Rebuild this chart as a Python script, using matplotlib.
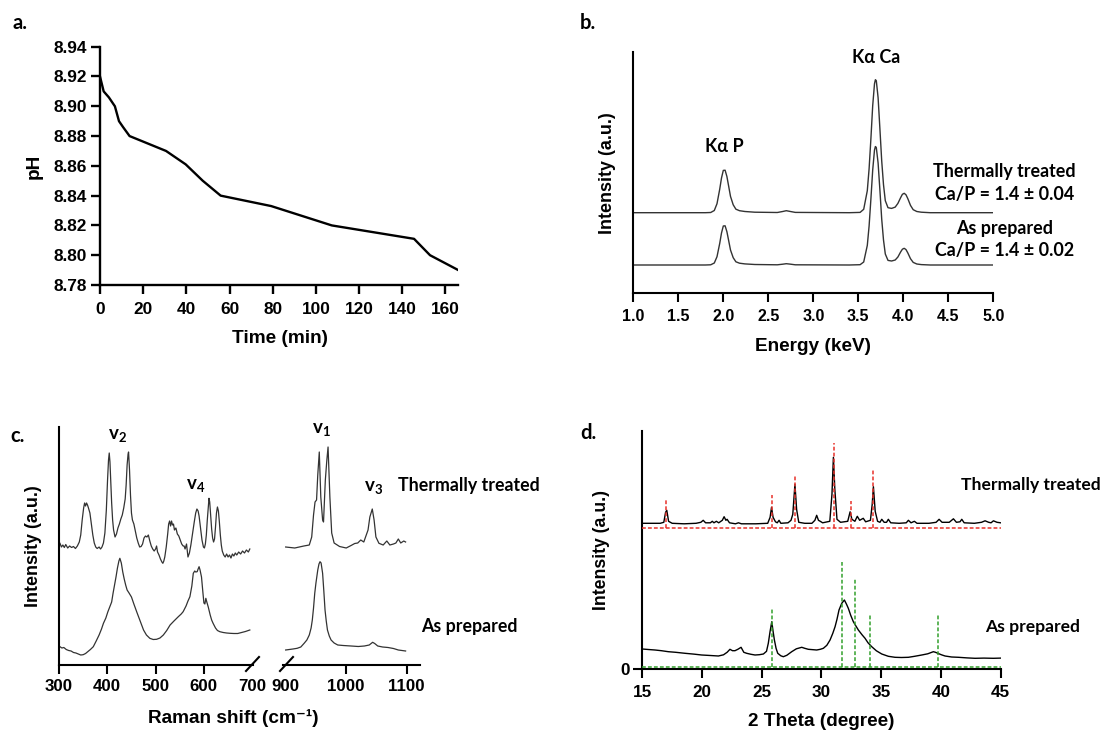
import matplotlib
matplotlib.use('Agg')
import matplotlib.pyplot as plt
from matplotlib.lines import Line2D

plt.rcParams['font.family'] = ['Liberation Sans', 'DejaVu Sans']
plt.rcParams['font.weight'] = 'bold'
plt.rcParams['mathtext.fontset'] = 'custom'
plt.rcParams['mathtext.rm'] = 'Lato'
plt.rcParams['mathtext.bf'] = 'Lato:bold'
plt.rcParams['mathtext.it'] = 'Lato:italic'

# ---------------- data ----------------
# (a) pH vs time
time_min = [0, 1.7, 4.1, 6.9, 8.8, 10.7, 13.7, 30.6, 39.7, 47.6, 55.9, 79.3, 107.4, 145.5, 152.9, 166]
ph = [8.920, 8.910, 8.906, 8.900, 8.890, 8.886, 8.880, 8.870, 8.861, 8.850, 8.840, 8.833, 8.820, 8.811, 8.800, 8.790]
ph_xticks = [0, 20, 40, 60, 80, 100, 120, 140, 160]
ph_yticks = [8.78, 8.80, 8.82, 8.84, 8.86, 8.88, 8.90, 8.92, 8.94]

# (b) EDS spectra (height above each trace's own baseline, a.u.)
eds_energy = [1.00, 1.80, 1.86, 1.90, 1.93, 1.96, 1.98, 2.00, 2.02, 2.04, 2.06, 2.08, 2.11, 2.14, 2.18, 2.24,
              2.35, 2.60, 2.66, 2.70, 2.74, 2.80, 3.40, 3.52, 3.56, 3.60, 3.62, 3.64, 3.66, 3.68, 3.69, 3.70,
              3.72, 3.74, 3.76, 3.78, 3.80, 3.83, 3.87, 3.91, 3.94, 3.97, 3.99, 4.01, 4.03, 4.05, 4.08, 4.11,
              4.15, 4.20, 4.30, 5.00]
eds_thermal = [0, 0, 0.2, 2.2, 9, 23.4, 34.7, 42.3, 42.5, 36.2, 26.3, 16.3, 7.9, 3.5, 2, 1.2,
               0.5, 0.2, 1.2, 2, 1.3, 0.3, 0, 0.3, 3.4, 22, 44, 74, 107, 129, 133, 132,
               115, 84, 52, 28, 12, 5, 4.3, 5.6, 9.3, 15, 18.4, 19.4, 17.9, 14.1, 7.3, 3,
               1.2, 0.5, 0, 0]
eds_prepared = [0, 0, 0.2, 2, 8.3, 21.5, 32, 39, 39.2, 33.3, 24.2, 15, 7.3, 3.2, 1.8, 1.1,
                0.5, 0.2, 0.8, 1.3, 0.9, 0.2, 0, 0.3, 3, 19.6, 39, 66, 95, 115, 118.5, 117.5,
                102, 75, 46, 25, 11, 4.6, 4, 5, 8, 13, 15.8, 16.7, 15.4, 12.1, 6.3, 2.6,
                1, 0.4, 0, 0]
eds_xticks = [1.0, 1.5, 2.0, 2.5, 3.0, 3.5, 4.0, 4.5, 5.0]

# (c) Raman spectra, low-shift segment (300-700) and high-shift segment (900-1100)
raman_th_low = [[302,121.7],[305,118],[308,120],[311,117.5],[314,120.5],[318,117],[322,119],[326,117.5],[330,118.5],
    [334,116.5],[338,119],[342,123],[345,130],[348,145],[351,157],[353,162],[355,159],[357,162],[359,160],[361,157],
    [364,152],[367,141],[370,130],[373,122],[376,118],[379,116.5],[383,118],[386,116],[389,118],[392,122],[395,132],
    [398,155],[400.5,185],[402.5,205],[404,212],[405.5,203],[407,185],[409,162],[411,145],[413,135],[416,128],
    [419,131],[422,137],[425,141],[428,146],[431,150],[434,157],[437,166],[439,180],[441,200],[443,211],[444,213],
    [446,195],[448,170],[450,152],[452,145],[455,141],[458,134],[461,127],[464,122],[467,118],[470,118.5],[473,121],
    [476,127],[479,129],[482,128],[485,130],[488,124],[491,119],[494,116],[497,114],[500,116],[502,119],[504,113],
    [507,110],[510,106],[513,103],[515,101.7],[517,104],[519,108],[522,118],[525,131],[527,141],[529,144],[531,139],
    [533,144],[535,140],[537,141],[539,135],[542,137],[545,131],[548,129],[551,125],[554,121],[557,119],[559,119],
    [561,116],[564,121],[567,108],[570,112],[573,120],[576,130],[580,143],[583,152],[585.5,156],[588,154],[590,149],
    [593,137],[596,125],[599,118],[601,117],[603,121],[605,130],[607,145],[609,158],[610.5,166.7],[612,163],[614,150],
    [616,136],[618,127],[620,123],[622,126],[624,138],[626,152],[628,158],[630,154],[632,143],[634,130],[636,120],
    [638,114],[641,110],[644,108],[647,111],[650,108],[653,110],[656,107],[659,111],[662,109],[665,112],[668,110],
    [672,113],[676,111],[680,114],[684,112],[688,115],[692,113],[695,116]]
raman_ap_low = [[302,18.3],[306,17],[310,17.5],[315,15.5],[320,14.5],[325,14],[330,12.5],[335,12],[340,11],[345,10],
    [350,10.3],[355,11.5],[360,13.5],[365,15.5],[371,18.3],[377,24],[383,30],[388,36],[392,41.7],[397,47],[401,53],
    [405,58],[409,63],[412,72],[415,80],[418,88],[421,97],[424,104],[426,106.7],[429,102],[432,93],[435,86],[438,80],
    [441,75],[445,72],[450,68],[455,61],[461,53],[468,44],[475,35],[481,30],[488,26.7],[495,25.5],[502,25.7],[509,27],
    [516,30],[523,34.5],[530,40],[538,44],[547,48.3],[553,51],[557,53.3],[563,59],[567,64],[571,68.3],[575,79],
    [578,91.7],[581,94],[583,93],[586,93.3],[588,96],[590,98.3],[592,95],[595,88],[598,72],[600,62],[602,61],
    [604,66.7],[606,63],[609,58],[613,50],[616,45],[619,41.7],[624,37],[628,34.5],[633,33.3],[640,32.5],[647,32],
    [654,31.7],[662,31.5],[670,31.5],[678,32.5],[686,33.5],[695,35]]
raman_th_high = [[900,118],[915,117],[930,119],[939,120],[943,128],[946,150],[948.5,163],[951,165],[953,190],
    [955.5,213],[958,168],[961,145],[962.5,143],[965.5,185],[968,205],[970,218],[973,168],[976,132],[980,122],
    [989,118.5],[1000,117],[1008,119.5],[1014,121.5],[1019,122],[1024,125],[1029,123],[1036,135],[1039,148],
    [1043,156],[1046,145],[1049,128],[1054,121.7],[1061,120],[1067,124],[1072,120],[1078,121],[1082,122],
    [1086,126],[1090,122],[1095,124],[1098,123]]
raman_ap_high = [[900,15],[906,15.5],[912,16],[919,16.7],[925,18],[930.5,21.7],[935,25],[939,30],[942,37],[944,45],
    [946,57],[948,71.7],[950,82],[953,95],[955,101],[956.7,103.3],[958.5,102],[961,91.7],[963,74],[965,55],[967,44],
    [969,35],[972,29],[975,25],[980,22],[986,20],[995,19.5],[1008,19],[1020,18.5],[1030,19],[1038,20],[1043.6,22.7],
    [1047,21.5],[1052,19],[1060,18],[1069,17.5],[1078,16.5],[1086,15],[1092,14.5],[1098,14]]
raman_low_ticks = [300, 400, 500, 600, 700]
raman_high_ticks = [900, 1000, 1100]

# (d) XRD patterns
xrd_th = [[15.0,146],[16.5,146],[16.8,147],[16.95,157],[17.05,159],[17.2,148],[17.5,146],[18.5,145.5],[19.5,146],
    [19.9,147],[20.1,149],[20.3,146.5],[20.7,146.5],[20.86,148],[21.0,146.5],[21.2,148],[21.4,146.5],[21.7,149],
    [21.85,152.6],[22.0,149],[22.1,150],[22.3,146.5],[22.8,145.5],[23.05,146.5],[23.3,145.5],[24.5,145.5],[25.5,146],
    [25.7,152],[25.82,162],[25.95,152],[26.15,147.5],[26.3,146.5],[26.45,149],[26.6,146],[27.2,146.5],[27.45,149],
    [27.6,155],[27.78,185],[27.92,160],[28.1,147],[28.6,146],[29.2,146],[29.45,149],[29.6,154],[29.75,149],[29.9,148],
    [30.1,146.5],[30.7,148],[30.88,175],[31.0,212],[31.12,180],[31.3,150],[31.6,147],[32.2,148],[32.4,157.5],
    [32.55,150],[32.8,148],[33.0,153],[33.2,149],[33.5,151],[33.7,147.5],[34.1,149],[34.25,165],[34.35,182.6],
    [34.5,158],[34.7,148],[34.9,147],[35.05,150],[35.25,147],[35.45,147],[35.6,150],[35.8,146.5],[36.5,146],
    [37.1,146.5],[37.28,149],[37.5,146.5],[37.78,148],[38.0,146],[39.0,146],[39.6,147],[39.85,150],[40.1,147],
    [40.7,147],[41.05,150.5],[41.3,147],[41.6,147.5],[41.75,150],[41.95,146.5],[42.8,146],[43.4,147],[43.7,148.5],
    [44.0,147],[44.2,146.5],[44.4,148.5],[44.7,147],[45.0,146.5]]
xrd_ap = [[15.0,20.3],[15.5,19.8],[16.06,19.3],[16.6,18.6],[17.18,17.6],[17.8,17],[18.58,16],[19.3,15.2],[19.97,14.3],
    [20.7,13.8],[21.37,13.3],[21.8,14.5],[22.1,17],[22.34,20],[22.55,18.6],[22.76,18.6],[23.0,20],[23.27,22],[23.5,17],
    [23.74,16],[24.1,15],[24.44,14.3],[24.8,14.6],[25.14,15.3],[25.4,18],[25.55,26],[25.7,38],[25.84,47.6],[25.95,38],
    [26.06,29.3],[26.2,21],[26.34,16],[26.6,13.5],[26.81,12.6],[27.1,14],[27.51,17.6],[27.9,20.5],[28.35,22],[28.6,21],
    [28.9,20],[29.3,19.6],[29.6,19.3],[29.9,20],[30.16,21],[30.45,24],[30.72,29.3],[30.95,36],[31.14,42.6],[31.3,50],
    [31.47,59.3],[31.7,66],[31.92,69.3],[32.1,65],[32.25,61],[32.45,54],[32.67,47.6],[32.9,43],[33.09,39.3],[33.4,34.5],
    [33.65,31],[33.9,26.5],[34.21,22.6],[34.6,18.5],[35.05,15.3],[35.6,13],[36.16,12],[36.7,11.8],[37.28,12],[37.8,13],
    [38.4,14.3],[38.9,15.5],[39.37,17.6],[39.55,17],[39.74,16],[40.05,14.5],[40.35,13.3],[40.9,12.3],[41.47,12],
    [42.2,11.4],[42.86,11],[43.6,11.2],[44.4,11],[45.0,11.2]]
ref_red_pos = [17.0, 25.84, 27.79, 31.03, 32.45, 34.35]
ref_red_h = [28, 33, 52, 85.3, 27.7, 58]
ref_green_pos = [25.84, 31.7, 32.8, 34.07, 39.74]
ref_green_h = [57.6, 105, 87.6, 51.6, 51.6]
xrd_xticks = [15, 20, 25, 30, 35, 40, 45]

# ---------------- layout helpers ----------------
W, H = 1105, 731
fig = plt.figure(figsize=(W / 100, H / 100), dpi=100)

def ax_at(l, r, t, b):
    return fig.add_axes([l / W, 1 - b / H, (r - l) / W, (b - t) / H])

def ftext(x, y, s, **kw):
    kw.setdefault('ha', 'center')
    kw.setdefault('va', 'center')
    fig.text(x / W, 1 - y / H, s, **kw)

ANN = ['Lato', 'Open Sans', 'DejaVu Sans']
AX = ['Liberation Sans', 'DejaVu Sans']

def style(ax, lw, size, pad, left=True):
    for s in ['top', 'right']:
        ax.spines[s].set_visible(False)
    ax.spines['bottom'].set_linewidth(lw)
    ax.spines['left'].set_linewidth(lw)
    ax.spines['left'].set_visible(left)
    ax.tick_params(axis='both', length=6.8, width=lw, labelsize=size, pad=pad, color='black')
    ax.patch.set_alpha(0)

# ---------------- (a) ----------------
axa = ax_at(100, 458.3, 46.7, 285)
axa.plot(time_min, ph, color='black', lw=1.7)
axa.set_xlim(0, 166)
axa.set_ylim(8.78, 8.94)
axa.set_xticks(ph_xticks)
axa.set_yticks(ph_yticks)
axa.set_yticklabels([f'{v:.2f}' for v in ph_yticks])
style(axa, 1.7, 12.4, 5.2)
axa.tick_params(axis='y', pad=2.5)
ftext(34.6, 166.7, 'pH', rotation=90, fontsize=13.7, family=AX)
ftext(280, 338.3, 'Time (min)', fontsize=13.7, family=AX)
ftext(20, 23, 'a.', fontsize=14.5, family=ANN)

# ---------------- (b) ----------------
off_th_b, off_ap_b = 80.6, 28.3
axb = ax_at(633.3, 993.3, 51.7, 293.3)
axb.plot(eds_energy, [v + off_th_b for v in eds_thermal], color='#333333', lw=1.0)
axb.plot(eds_energy, [v + off_ap_b for v in eds_prepared], color='#333333', lw=1.0)
axb.set_xlim(1.0, 5.0)
axb.set_ylim(0, 241.6)
axb.set_xticks(eds_xticks)
axb.set_xticklabels([f'{v:.1f}' for v in eds_xticks])
axb.set_yticks([])
style(axb, 1.5, 11.5, 4.2)
ftext(607, 173, 'Intensity (a.u.)', rotation=90, fontsize=12.9, family=AX)
ftext(813, 346.7, 'Energy (keV)', fontsize=13.7, family=AX)
ftext(588, 23, 'b.', fontsize=14.5, family=ANN)
ftext(724, 146.7, 'Kα P', fontsize=12.9, family=ANN)
ftext(876, 57.3, 'Kα Ca', fontsize=12.9, family=ANN)
ftext(1004.7, 171.7, 'Thermally treated', fontsize=12.9, family=ANN)
ftext(1004.7, 194.3, 'Ca/P = 1.4 ± 0.04', fontsize=12.9, family=ANN)
ftext(1004.7, 228.3, 'As prepared', fontsize=12.9, family=ANN)
ftext(1004.7, 250.7, 'Ca/P = 1.4 ± 0.02', fontsize=12.9, family=ANN)

# ---------------- (c) ----------------
axcl = ax_at(59, 252.7, 426.7, 665)
axcr = ax_at(283, 420, 426.7, 665)
for ax, seg in [(axcl, raman_th_low), (axcl, raman_ap_low), (axcr, raman_th_high), (axcr, raman_ap_high)]:
    ax.plot([p[0] for p in seg], [p[1] for p in seg], color='#333333', lw=0.9)
axcl.set_xlim(300, 701)
axcr.set_xlim(895.6, 1121.8)
for ax in (axcl, axcr):
    ax.set_ylim(0, 238.3)
    ax.set_yticks([])
style(axcl, 1.5, 12.2, 3.3)
style(axcr, 1.5, 12.2, 3.3, left=False)
axcl.set_xticks(raman_low_ticks)
axcr.set_xticks(raman_high_ticks)
axcl.xaxis.get_major_ticks()[-1].tick1line.set_visible(False)
axcr.xaxis.get_major_ticks()[0].tick1line.set_visible(False)
for (x0, y0, x1, y1) in [(246, 671, 259, 657), (280, 671, 293, 657)]:
    fig.add_artist(Line2D([x0 / W, x1 / W], [1 - y0 / H, 1 - y1 / H], transform=fig.transFigure,
                          color='black', lw=1.5))
ftext(34, 546, 'Intensity (a.u.)', rotation=90, fontsize=12.9, family=AX)
ftext(233.3, 718.3, 'Raman shift (cm⁻¹)', fontsize=13.7, family=AX)
ftext(18, 435.5, 'c.', fontsize=14.5, family=ANN)
ftext(118, 435, r'$\mathbf{v_2}$', fontsize=13.5)
ftext(195.4, 485, r'$\mathbf{v_4}$', fontsize=13.5)
ftext(321.4, 430, r'$\mathbf{v_1}$', fontsize=13.5)
ftext(373.2, 488, r'$\mathbf{v_3}$', fontsize=13.5)
ftext(469.3, 485, 'Thermally treated', fontsize=12.8, family=ANN)
ftext(469.3, 626.7, 'As prepared', fontsize=12.8, family=ANN)

# ---------------- (d) ----------------
red_base, green_base = 141, 2.5
axd = ax_at(642.3, 1000.6, 430.7, 669.3)
axd.plot([p[0] for p in xrd_th], [p[1] for p in xrd_th], color='black', lw=1.0, zorder=2)
axd.plot([p[0] for p in xrd_ap], [p[1] for p in xrd_ap], color='black', lw=1.0, zorder=2)
RED, GREEN = '#e8322b', '#33a02c'
axd.plot([15, 45], [red_base, red_base], color=RED, lw=1.1, dashes=(2.5, 1.4), zorder=3)
axd.plot([15, 45], [green_base, green_base], color=GREEN, lw=1.1, dashes=(2.5, 1.4), zorder=3)
for p, h in zip(ref_red_pos, ref_red_h):
    axd.plot([p, p], [red_base, red_base + h], color=RED, lw=1.1, dashes=(2.5, 1.4), zorder=3)
for p, h in zip(ref_green_pos, ref_green_h):
    axd.plot([p, p], [green_base, green_base + h], color=GREEN, lw=1.1, dashes=(2.5, 1.4), zorder=3)
axd.set_xlim(15, 45)
axd.set_ylim(0, 238.6)
axd.set_xticks(xrd_xticks)
axd.set_yticks([0])
style(axd, 1.5, 12.3, 4.5)
axd.tick_params(axis='y', pad=2.5)
ftext(601.7, 550, 'Intensity (a.u.)', rotation=90, fontsize=12.7, family=AX)
ftext(821.5, 721.7, '2 Theta (degree)', fontsize=13.7, family=AX)
ftext(588, 433.3, 'd.', fontsize=14.5, family=ANN)
ftext(1031, 485, 'Thermally treated', fontsize=12.6, family=ANN)
ftext(1032.5, 626.7, 'As prepared', fontsize=12.6, family=ANN)

fig.savefig('out.png', dpi=100)
